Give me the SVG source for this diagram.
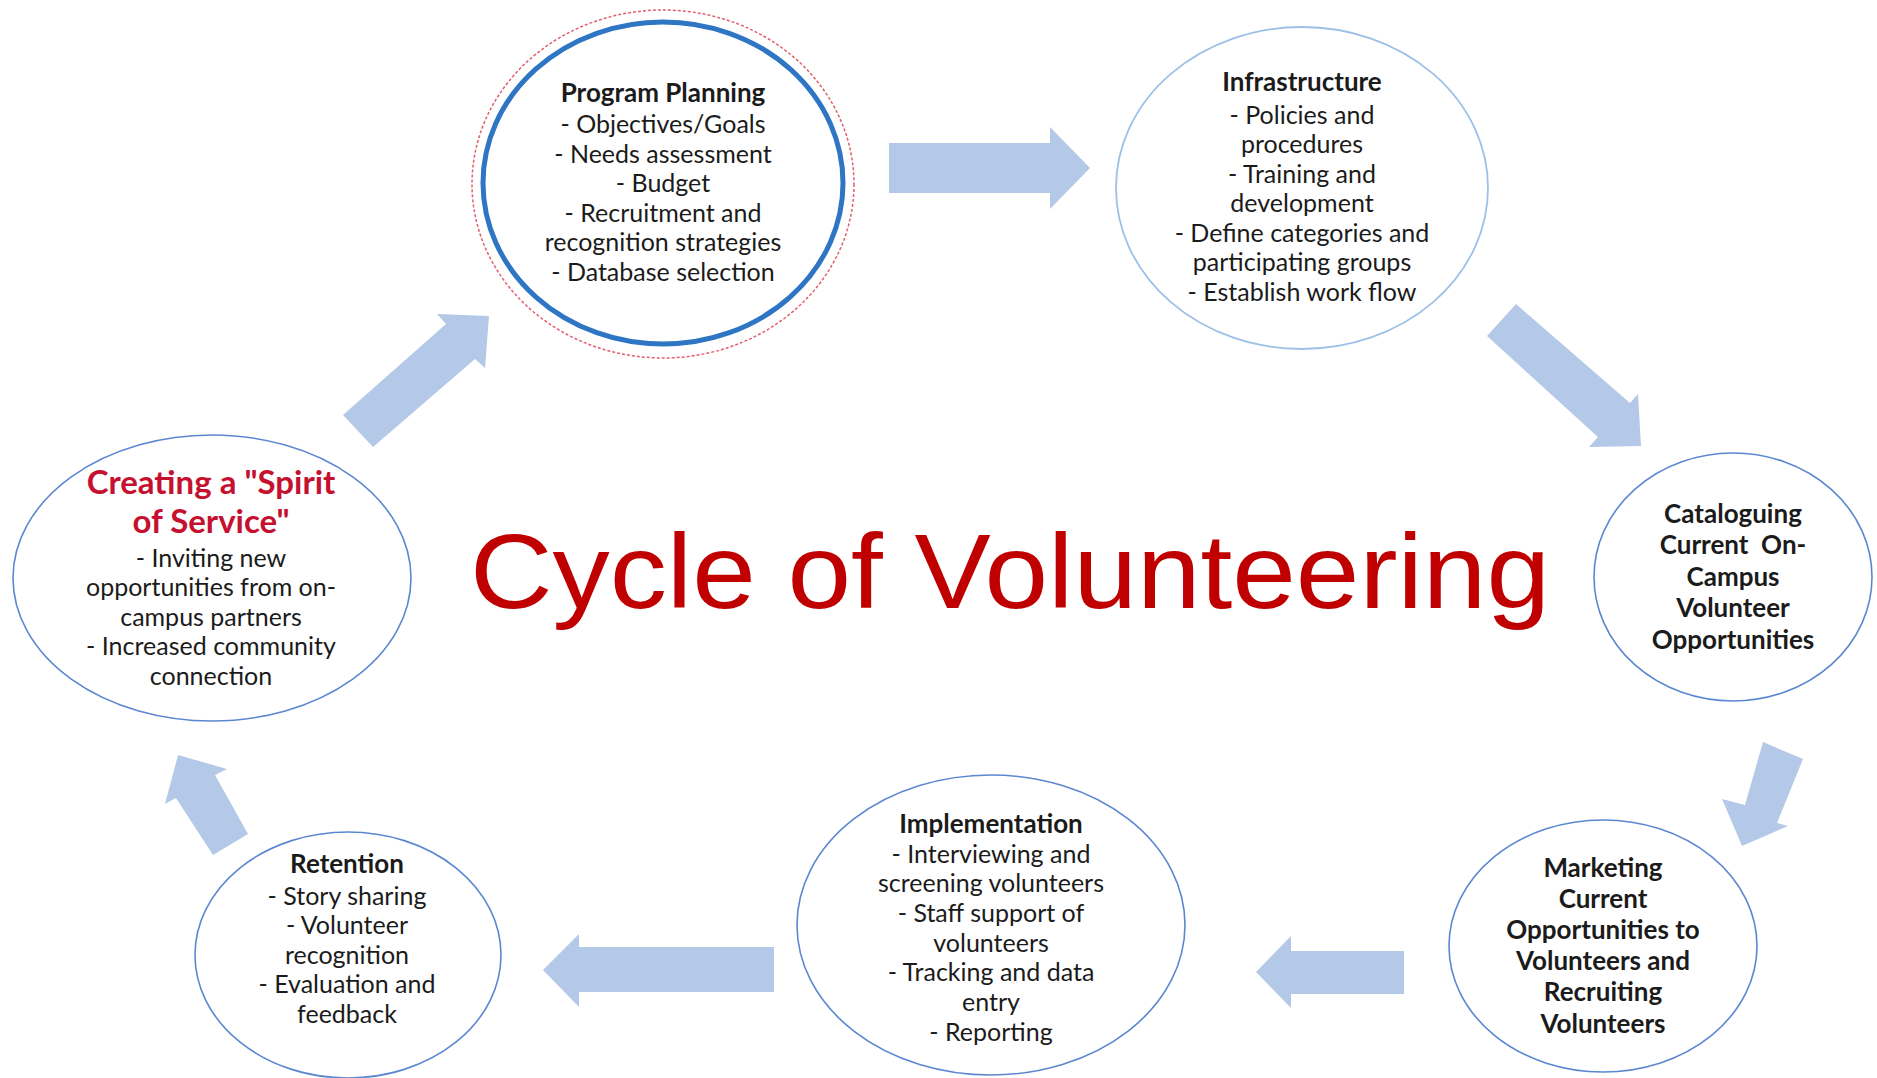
<svg xmlns="http://www.w3.org/2000/svg" width="1877" height="1078" viewBox="0 0 1877 1078">
<style>
.bg{fill:#ffffff}
.node{fill:#ffffff;stroke:#5b87d1;stroke-width:1.6}
.light{stroke:#9dc0e6;stroke-width:1.8}
.t{font-family:Lato,"Open Sans","Liberation Sans",sans-serif;font-size:25px;fill:#1b1b1b;text-anchor:middle}
.b{font-weight:bold;font-size:26px}
.red{font-weight:bold;font-size:33px;fill:#c5112f}
.arrow{fill:#b4c8e7;stroke:none}
.title{font-family:"Liberation Sans",Arial,sans-serif;font-size:105px;fill:#c00000}
</style>
<rect class="bg" x="0" y="0" width="1877" height="1078"/>

<g id="connectors">
<polygon class="arrow" points="889,143 1050,143 1050,127 1090,168 1050,209 1050,193 889,193"/>
<polygon class="arrow" points="1516,304 1630,403 1638,394 1641,446 1589,447 1598,437 1487,336"/>
<polygon class="arrow" points="1763,742 1803,759 1777,823 1788,826 1742,846 1722,799 1745,805"/>
<polygon class="arrow" points="1404,951 1291,951 1291,936 1256,972 1291,1008 1291,994 1404,994"/>
<polygon class="arrow" points="774,947 579,947 579,934 543,970 579,1007 579,992 774,992"/>
<polygon class="arrow" points="248,834 215,775 227,769 178,755 165,804 176,798 213,855"/>
<polygon class="arrow" points="343,415 446,324 437,314 489,316 485,368 475,359 373,447"/>
</g>

<text class="title" x="470" y="608" textLength="1080" lengthAdjust="spacingAndGlyphs">Cycle of Volunteering</text>

<g id="program-planning">
<ellipse cx="663" cy="184" rx="191" ry="174" fill="none" stroke="#e0606e" stroke-width="1.5" stroke-dasharray="3 2"/>
<ellipse cx="663" cy="183" rx="180" ry="161" fill="#ffffff" stroke="#2e75c4" stroke-width="5"/>
<text class="t b" x="663" y="102">Program Planning</text>
<text class="t" x="663" y="133">- Objectives/Goals</text>
<text class="t" x="663" y="162.5">- Needs assessment</text>
<text class="t" x="663" y="192">- Budget</text>
<text class="t" x="663" y="221.5">- Recruitment and</text>
<text class="t" x="663" y="251">recognition strategies</text>
<text class="t" x="663" y="280.5">- Database selection</text>
</g>

<g id="infrastructure">
<ellipse class="node light" cx="1302" cy="188" rx="186" ry="161"/>
<text class="t b" x="1302" y="91">Infrastructure</text>
<text class="t" x="1302" y="123.5">- Policies and</text>
<text class="t" x="1302" y="153">procedures</text>
<text class="t" x="1302" y="182.5">- Training and</text>
<text class="t" x="1302" y="212">development</text>
<text class="t" x="1302" y="241.5">- Define categories and</text>
<text class="t" x="1302" y="271">participating groups</text>
<text class="t" x="1302" y="300.5">- Establish work flow</text>
</g>

<g id="cataloguing">
<ellipse class="node" cx="1733" cy="577" rx="139" ry="124"/>
<text class="t b" x="1733" y="522.5">Cataloguing</text>
<text class="t b" x="1733" y="554" xml:space="preserve">Current  On-</text>
<text class="t b" x="1733" y="585.5">Campus</text>
<text class="t b" x="1733" y="617">Volunteer</text>
<text class="t b" x="1733" y="648.5">Opportunities</text>
</g>

<g id="marketing">
<ellipse class="node" cx="1603" cy="946" rx="154" ry="126"/>
<text class="t b" x="1603" y="876.5">Marketing</text>
<text class="t b" x="1603" y="907.7">Current</text>
<text class="t b" x="1603" y="938.9">Opportunities to</text>
<text class="t b" x="1603" y="970.1">Volunteers and</text>
<text class="t b" x="1603" y="1001.3">Recruiting</text>
<text class="t b" x="1603" y="1032.5">Volunteers</text>
</g>

<g id="implementation">
<ellipse class="node" cx="991" cy="925" rx="194" ry="150"/>
<text class="t b" x="991" y="832.5">Implementation</text>
<text class="t" x="991" y="862.5">- Interviewing and</text>
<text class="t" x="991" y="892.2">screening volunteers</text>
<text class="t" x="991" y="921.9">- Staff support of</text>
<text class="t" x="991" y="951.6">volunteers</text>
<text class="t" x="991" y="981.3">- Tracking and data</text>
<text class="t" x="991" y="1011">entry</text>
<text class="t" x="991" y="1040.7">- Reporting</text>
</g>

<g id="retention">
<ellipse class="node" cx="348" cy="955" rx="153" ry="123"/>
<text class="t b" x="347" y="873">Retention</text>
<text class="t" x="347" y="904.5">- Story sharing</text>
<text class="t" x="347" y="934">- Volunteer</text>
<text class="t" x="347" y="963.5">recognition</text>
<text class="t" x="347" y="993">- Evaluation and</text>
<text class="t" x="347" y="1022.5">feedback</text>
</g>

<g id="spirit-of-service">
<ellipse class="node" cx="212" cy="578" rx="199" ry="143"/>
<text class="t red" x="211" y="494">Creating a "Spirit</text>
<text class="t red" x="211" y="533">of Service"</text>
<text class="t" x="211" y="566.5">- Inviting new</text>
<text class="t" x="211" y="596">opportunities from on-</text>
<text class="t" x="211" y="625.5">campus partners</text>
<text class="t" x="211" y="655">- Increased community</text>
<text class="t" x="211" y="684.5">connection</text>
</g>
</svg>
